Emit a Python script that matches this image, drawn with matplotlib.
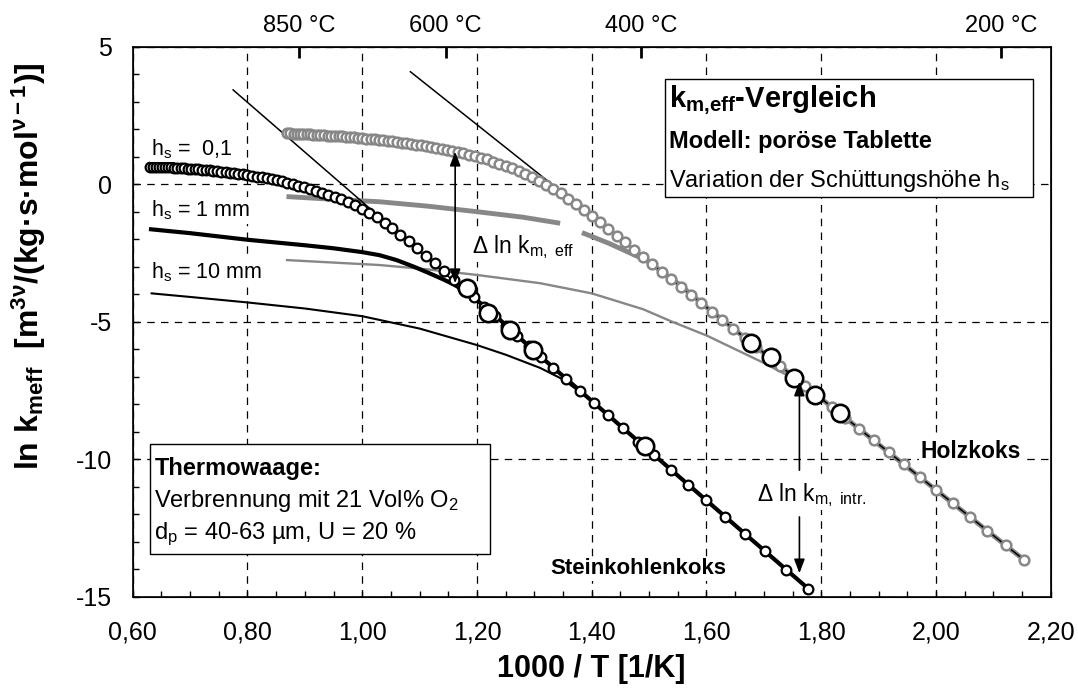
import matplotlib
matplotlib.use("Agg")
import matplotlib.pyplot as plt
from matplotlib.patches import Rectangle
from matplotlib.ticker import MultipleLocator

plt.rcParams['font.family'] = ['Liberation Sans', 'DejaVu Sans']
plt.rcParams['mathtext.fontset'] = 'custom'
plt.rcParams['mathtext.rm'] = 'Liberation Sans'
plt.rcParams['mathtext.it'] = 'Liberation Sans:italic'
plt.rcParams['mathtext.bf'] = 'Liberation Sans:bold'

nan = float('nan')

# Steinkohlenkoks, h_s = 0,1 (open circles)
stein_x = [0.6299, 0.6349, 0.6400, 0.6452, 0.6504, 0.6557, 0.6612, 0.6667, 0.6723, 0.6780,
           0.6838, 0.6897, 0.6957, 0.7018, 0.7080, 0.7143, 0.7207, 0.7273, 0.7339, 0.7407,
           0.7477, 0.7547, 0.7619, 0.7692, 0.7767, 0.7843, 0.7921, 0.8000, 0.8081, 0.8163,
           0.8247, 0.8333, 0.8421, 0.8511, 0.8602, 0.8696, 0.8791, 0.8889, 0.8989, 0.9091,
           0.9195, 0.9302, 0.9412, 0.9524, 0.9639, 0.9756, 0.9877, 1.0000, 1.0127, 1.0256,
           1.0390, 1.0526, 1.0667, 1.0811, 1.0959, 1.1111, 1.1268, 1.1429, 1.1594, 1.1765,
           1.1940, 1.2121, 1.2308, 1.2500, 1.2698, 1.2903, 1.3115, 1.3333, 1.3559, 1.3793,
           1.4035, 1.4286, 1.4545, 1.4815, 1.5094, 1.5385, 1.5686, 1.6000, 1.6327, 1.6667,
           1.7021, 1.7391, 1.7778]
stein_y = [0.64, 0.64, 0.63, 0.63, 0.62, 0.62, 0.61, 0.61, 0.60, 0.59,
           0.59, 0.58, 0.57, 0.56, 0.55, 0.54, 0.53, 0.52, 0.50, 0.49,
           0.47, 0.46, 0.44, 0.42, 0.40, 0.38, 0.36, 0.33, 0.31, 0.28,
           0.25, 0.22, 0.18, 0.14, 0.10, 0.05, 0.00, -0.05, -0.11, -0.17,
           -0.24, -0.31, -0.38, -0.46, -0.55, -0.65, -0.76, -0.89, -1.04, -1.21,
           -1.40, -1.61, -1.84, -2.08, -2.33, -2.60, -2.88, -3.17, -3.47, -3.79,
           -4.12, -4.46, -4.81, -5.16, -5.52, -5.89, -6.28, -6.67, -7.08, -7.51,
           -7.95, -8.40, -8.87, -9.36, -9.86, -10.39, -10.94, -11.50, -12.09, -12.71,
           -13.35, -14.02, -14.73]

# Holzkoks, h_s = 0,1 (open circles)
holz_x = [0.8696, 0.8750, 0.8805, 0.8861, 0.8917, 0.8974, 0.9032, 0.9091, 0.9150, 0.9211,
          0.9272, 0.9333, 0.9396, 0.9459, 0.9524, 0.9589, 0.9655, 0.9722, 0.9790, 0.9859,
          0.9929, 1.0000, 1.0072, 1.0145, 1.0219, 1.0294, 1.0370, 1.0448, 1.0526, 1.0606,
          1.0687, 1.0769, 1.0853, 1.0938, 1.1024, 1.1111, 1.1200, 1.1290, 1.1382, 1.1475,
          1.1570, 1.1667, 1.1765, 1.1864, 1.1966, 1.2069, 1.2174, 1.2281, 1.2389, 1.2500,
          1.2613, 1.2727, 1.2844, 1.2963, 1.3084, 1.3208, 1.3333, 1.3462, 1.3592, 1.3725,
          1.3861, 1.4000, 1.4141, 1.4286, 1.4433, 1.4583, 1.4737, 1.4894, 1.5054, 1.5217,
          1.5385, 1.5556, 1.5730, 1.5909, 1.6092, 1.6279, 1.6471, 1.6667, 1.6867, 1.7073,
          1.7284, 1.7500, 1.7722, 1.7949, 1.8182, 1.8421, 1.8667, 1.8919, 1.9178, 1.9444,
          1.9718, 2.0000, 2.0290, 2.0588, 2.0896, 2.1212, 2.1538]
holz_y = [1.85, 1.845, 1.84, 1.83, 1.825, 1.82, 1.815, 1.81, 1.80, 1.795,
          1.79, 1.78, 1.77, 1.765, 1.76, 1.75, 1.74, 1.72, 1.71, 1.70,
          1.69, 1.68, 1.66, 1.65, 1.63, 1.62, 1.60, 1.58, 1.56, 1.54,
          1.51, 1.49, 1.46, 1.44, 1.41, 1.38, 1.35, 1.32, 1.28, 1.25,
          1.21, 1.16, 1.12, 1.07, 1.03, 0.96, 0.90, 0.82, 0.75, 0.68,
          0.58, 0.47, 0.36, 0.25, 0.12, -0.03, -0.18, -0.33, -0.52, -0.73,
          -0.94, -1.16, -1.39, -1.63, -1.87, -2.12, -2.38, -2.64, -2.91, -3.18,
          -3.45, -3.74, -4.03, -4.32, -4.63, -4.94, -5.26, -5.58, -5.91, -6.26,
          -6.61, -6.97, -7.33, -7.71, -8.10, -8.49, -8.90, -9.32, -9.75, -10.19,
          -10.65, -11.12, -11.60, -12.09, -12.60, -13.13, -13.67]

# Steinkohlenkoks model curves h_s = 1 mm / 10 mm
stein_1mm_x = [0.632, 0.70, 0.80, 0.90, 0.95, 1.00, 1.03, 1.06, 1.09, 1.115, 1.14, 1.16, 1.18,
               1.22, 1.30, 1.40, 1.50, 1.60, 1.70, 1.778]
stein_1mm_y = [-1.64, -1.78, -2.02, -2.22, -2.33, -2.47, -2.58, -2.76, -3.00, -3.22, -3.45, -3.65, -3.90,
               -4.55, -6.07, -7.88, -9.69, -11.50, -13.31, -14.72]
stein_10mm_x = [0.633, 0.70, 0.80, 0.90, 1.00, 1.10, 1.20, 1.25, 1.31, 1.35, 1.40, 1.50, 1.60, 1.70, 1.778]
stein_10mm_y = [-3.97, -4.10, -4.30, -4.52, -4.80, -5.25, -5.85, -6.20, -6.68, -7.10, -7.88, -9.69, -11.50, -13.31, -14.72]

# Holzkoks model curves h_s = 1 mm / 10 mm
holz_1mm_x = [0.868, 0.95, 1.031, 1.115, 1.20, 1.28, 1.345, nan, 1.383, 1.43, 1.496, 1.55, 1.60, 1.70, 1.80, 1.90, 2.00, 2.10, 2.154]
holz_1mm_y = [-0.45, -0.55, -0.64, -0.80, -1.00, -1.20, -1.42, nan, -1.76, -2.15, -2.78, -3.60, -4.47, -6.14, -7.80, -9.46, -11.12, -12.78, -13.67]
holz_10mm_x = [0.869, 0.95, 1.031, 1.115, 1.20, 1.31, 1.40, 1.49, 1.54, 1.60, 1.65, 1.70, 1.75, 1.80, 1.90, 2.00, 2.10, 2.154]
holz_10mm_y = [-2.76, -2.85, -2.94, -3.10, -3.30, -3.60, -3.97, -4.55, -5.00, -5.50, -6.00, -6.50, -7.05, -7.80, -9.46, -11.12, -12.78, -13.67]

# intrinsic kinetics (straight lines)
intr_stein_x = [0.775, 1.778]
intr_stein_y = [3.43, -14.72]
intr_holz_x = [1.084, 2.154]
intr_holz_y = [4.09, -13.67]

# thermogravimetric measurements
exp_stein_x = [1.183, 1.220, 1.258, 1.298, 1.493]
exp_stein_y = [-3.79, -4.70, -5.30, -6.03, -9.52]
exp_holz_x = [1.677, 1.713, 1.752, 1.789, 1.833]
exp_holz_y = [-5.76, -6.30, -7.06, -7.67, -8.33]

xticks = [0.6, 0.8, 1.0, 1.2, 1.4, 1.6, 1.8, 2.0, 2.2]
xtick_labels = ['0,60', '0,80', '1,00', '1,20', '1,40', '1,60', '1,80', '2,00', '2,20']
yticks = [5, 0, -5, -10, -15]
ytick_labels = ['5', '0', '-5', '-10', '-15']
top_temps = [850, 600, 400, 200]

GRAY = '#878787'
WHITE_BG = dict(facecolor='white', edgecolor='none', pad=1.0)

fig = plt.figure(figsize=(10.78, 6.89), dpi=100)
ax = fig.add_axes([0.1231, 0.1340, 0.8516, 0.7982])
ax.set_xlim(0.6, 2.2)
ax.set_ylim(-15, 5)
ax.set_axisbelow(True)

ax.plot(holz_10mm_x, holz_10mm_y, color=GRAY, lw=1.7, zorder=2)
ax.plot(holz_1mm_x, holz_1mm_y, color=GRAY, lw=3.5, zorder=2, solid_capstyle='butt')
ax.plot(stein_10mm_x, stein_10mm_y, color='black', lw=1.5, zorder=2.2)
ax.plot(stein_1mm_x, stein_1mm_y, color='black', lw=3.0, zorder=2.2)
ax.plot(intr_stein_x, intr_stein_y, color='black', lw=1.1, zorder=2.4)
ax.plot(intr_holz_x, intr_holz_y, color='black', lw=1.1, zorder=2.4)

ax.plot(stein_x, stein_y, ls='none', marker='o', ms=7, mfc='white', mec='black', mew=1.6, zorder=3)
ax.plot(holz_x, holz_y, ls='none', marker='o', ms=7, mfc='white', mec=GRAY, mew=1.8, zorder=3)
ax.plot(exp_stein_x, exp_stein_y, ls='none', marker='o', ms=12.5, mfc='white', mec='black', mew=1.9, zorder=3.5)
ax.plot(exp_holz_x, exp_holz_y, ls='none', marker='o', ms=12.5, mfc='white', mec='black', mew=1.9, zorder=3.5)

# axes, ticks and grid
ax.set_xticks(xticks, labels=xtick_labels)
ax.set_yticks(yticks, labels=ytick_labels)
ax.xaxis.set_minor_locator(MultipleLocator(0.05))
ax.yaxis.set_minor_locator(MultipleLocator(1))
ax.tick_params(which='both', direction='in', top=False, right=False, length=4.5, width=1.0)
ax.tick_params(axis='x', labelsize=18, pad=17)
ax.tick_params(axis='y', labelsize=18, pad=15)
ax.grid(which='major', color='black', lw=0.9, ls=(0, (6, 5)))
for sp in ax.spines.values():
    sp.set_linewidth(1.2)

ax2 = ax.twiny()
ax2.set_xlim(ax.get_xlim())
ax2.set_xticks([1000.0 / (t + 273.15) for t in top_temps],
               labels=[f'{t} °C' for t in top_temps])
ax2.tick_params(direction='in', length=8, width=2, pad=7, labelsize=17)

ax.set_xlabel('1000 / T [1/K]', fontsize=22, fontweight='bold')
ax.xaxis.set_label_coords(0.5, -0.105)
ax.text(-0.113, 0.601, r'ln k$_\mathbf{meff}$  [m$^\mathbf{3ν}$/(kg·s·mol$^\mathbf{ν-1}$)]',
        rotation=90, ha='center', va='center', fontsize=23, fontweight='bold',
        transform=ax.transAxes)

# curve labels
ax.text(0.6324, 1.06, r'h$_\mathregular{s}$ =  0,1', fontsize=15.5, va='baseline', bbox=WHITE_BG, zorder=4)
ax.text(0.6324, -1.18, r'h$_\mathregular{s}$ = 1 mm', fontsize=15.5, va='baseline', bbox=WHITE_BG, zorder=4)
ax.text(0.6324, -3.42, r'h$_\mathregular{s}$ = 10 mm', fontsize=15.5, va='baseline', bbox=WHITE_BG, zorder=4)
ax.text(1.328, -14.19, 'Steinkohlenkoks', fontsize=16, fontweight='bold', va='baseline',
        bbox=WHITE_BG, zorder=4)
ax.text(1.973, -9.95, 'Holzkoks', fontsize=16.5, fontweight='bold', va='baseline',
        bbox=WHITE_BG, zorder=4)

# delta arrows
head = '-|>,head_length=0.42,head_width=0.16'
ax.annotate('', xy=(1.162, 1.18), xytext=(1.162, -3.6),
            arrowprops=dict(arrowstyle='<|-|>,head_length=0.42,head_width=0.16', color='black',
                            lw=1.2, mutation_scale=20, shrinkA=0, shrinkB=0), zorder=4)
ax.text(1.1908, -2.51, r'$\Delta$ ln k$_\mathregular{m,\ eff}$', fontsize=16.5, va='baseline',
        bbox=WHITE_BG, zorder=4)
ax.annotate('', xy=(1.762, exp_holz_y[2] - 0.12), xytext=(1.762, -10.4),
            arrowprops=dict(arrowstyle=head, color='black', lw=1.2, mutation_scale=20,
                            shrinkA=0, shrinkB=0), zorder=4)
ax.annotate('', xy=(1.762, -14.15), xytext=(1.762, -12.1),
            arrowprops=dict(arrowstyle=head, color='black', lw=1.2, mutation_scale=20,
                            shrinkA=0, shrinkB=0), zorder=4)
ax.text(1.6876, -11.51, r'$\Delta$ ln k$_\mathregular{m,\ intr.}$', fontsize=16.5, va='baseline',
        bbox=WHITE_BG, zorder=4)

# info boxes
ax.add_patch(Rectangle((0.5793, 0.7274), 0.4012, 0.2139, transform=ax.transAxes,
                       facecolor='white', edgecolor='black', lw=1.0, zorder=1))
ax.text(0.5838, 0.8909, r'k$_\mathbf{m{,}eff}$-Vergleich', fontsize=21, fontweight='bold',
        va='baseline', transform=ax.transAxes, zorder=5)
ax.text(0.5838, 0.8153, 'Modell: poröse Tablette', fontsize=17, fontweight='bold',
        va='baseline', transform=ax.transAxes, zorder=5)
ax.text(0.5838, 0.7453, r'Variation der Schüttungshöhe h$_\mathregular{s}$', fontsize=17,
        va='baseline', transform=ax.transAxes, zorder=5)

ax.add_patch(Rectangle((0.0187, 0.0776), 0.3710, 0.1995, transform=ax.transAxes,
                       facecolor='white', edgecolor='black', lw=1.0, zorder=1))
ax.text(0.0235, 0.2213, 'Thermowaage:', fontsize=17, fontweight='bold',
        va='baseline', transform=ax.transAxes, zorder=5)
ax.text(0.0235, 0.1636, r'Verbrennung mit 21 Vol% O$_\mathregular{2}$', fontsize=17,
        va='baseline', transform=ax.transAxes, zorder=5)
ax.text(0.0235, 0.1043, r'd$_\mathregular{p}$ = 40-63 µm, U = 20 %', fontsize=17,
        va='baseline', transform=ax.transAxes, zorder=5)

fig.savefig('out.png', dpi=100)
